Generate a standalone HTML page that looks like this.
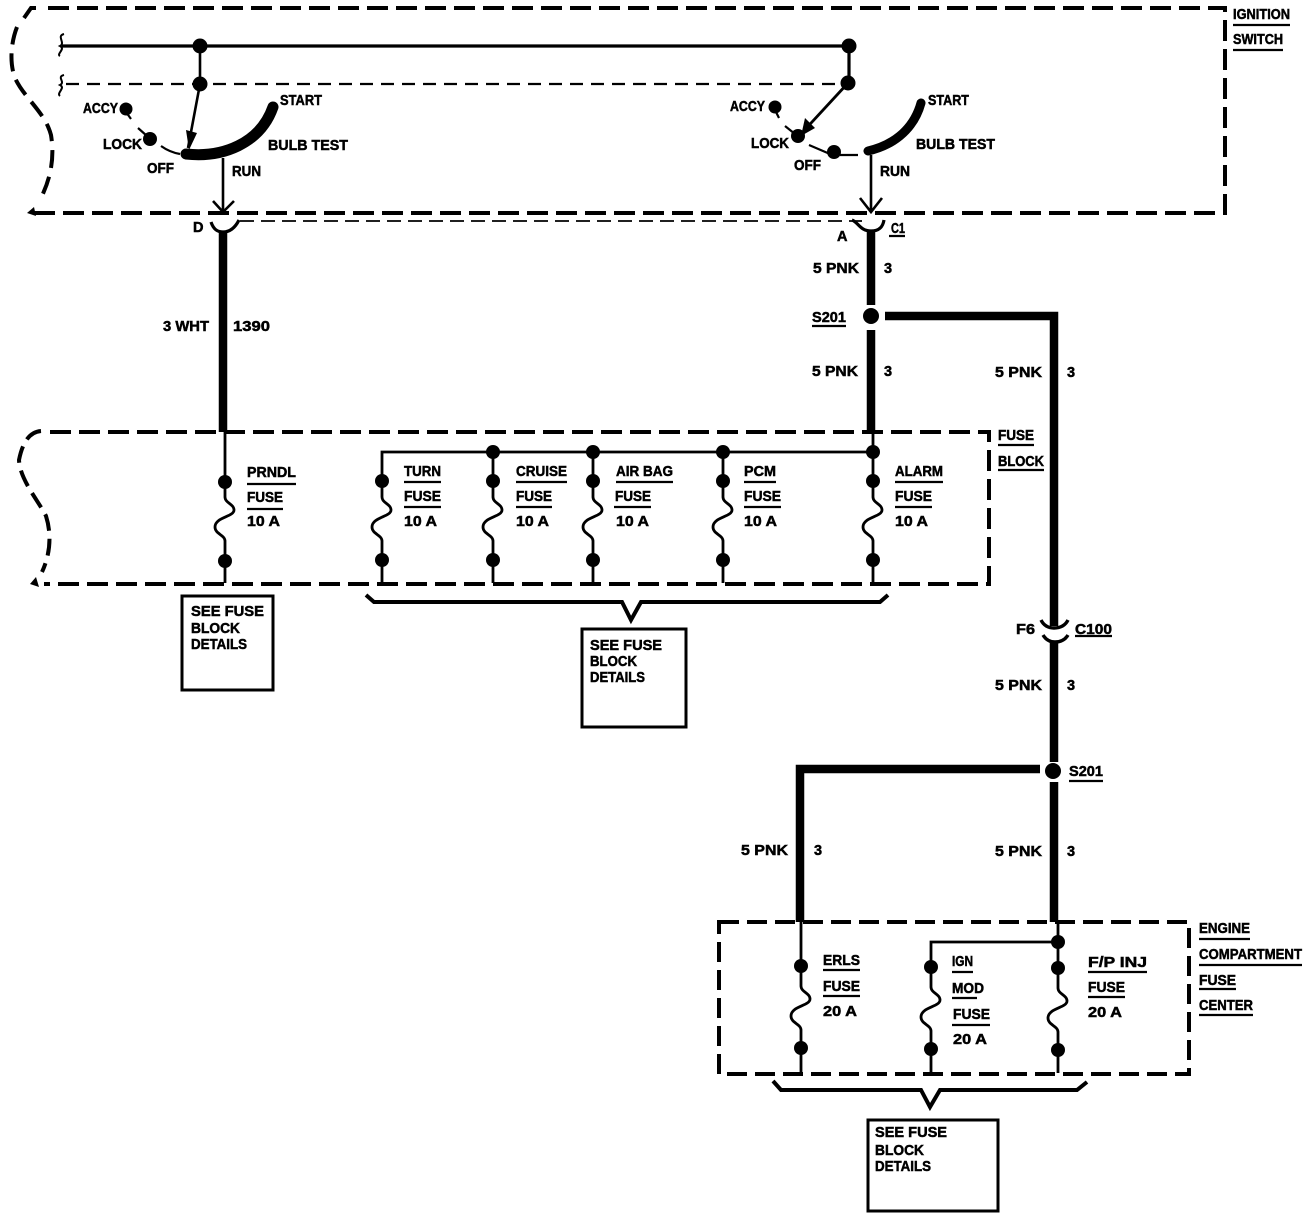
<!DOCTYPE html>
<html lang="en">
<head>
<meta charset="utf-8">
<title>Wiring diagram</title>
<style>
html,body{margin:0;padding:0;background:#fff}
svg{display:block}
text{font-family:"Liberation Sans",sans-serif;font-weight:bold;font-size:14.5px;fill:#000;stroke:#000;stroke-width:.5}
.w{fill:none;stroke:#000;stroke-linejoin:miter}
.b{stroke-width:4}
.d{fill:#000;stroke:none}
</style>
</head>
<body>
<svg width="1312" height="1220" viewBox="0 0 1312 1220" xmlns="http://www.w3.org/2000/svg">
<rect width="1312" height="1220" fill="#fff"/>

<!-- Ignition switch box -->
<path class="w b" stroke-dasharray="21 8" d="M48 8H1225V213H28"/>
<path class="w" stroke-width="4" d="M36 8H31L24 18"/>
<path class="w b" stroke-dasharray="18 9" d="M17 27C10 45 10 65 15 78C24 98 45 112 51 135C55 160 50 180 40 200"/>
<path class="d" d="M27 213L34 207L36 216Z"/>
<path class="w" stroke-width="1.8" stroke-dasharray="14 7" d="M240 221H862"/>

<!-- Bus lines -->
<path class="w" stroke-width="3.2" d="M62 46H849V83"/>
<path class="w" stroke-width="2.2" stroke-dasharray="13 8" d="M66 84H842"/>
<path class="w" stroke-width="2" d="M64 34C56 36 66 43 60 46C66 49 56 54 60 56M64 75C56 77 66 82 60 85C66 88 56 93 60 96"/>
<path class="w" stroke-width="2.6" d="M200 46V84L188 148"/>
<path class="d" d="M186 130L197 133L189 150Z"/>
<circle class="d" cx="200" cy="46" r="7.5"/>
<circle class="d" cx="200" cy="84" r="7.5"/>
<circle class="d" cx="849" cy="46" r="7.5"/>
<circle class="d" cx="848" cy="83" r="7.5"/>

<!-- Left switch -->
<path class="w" stroke-width="11" stroke-linecap="round" d="M186 154C222 158 260 144 273 107"/>
<circle class="d" cx="126" cy="109" r="6.5"/>
<circle class="d" cx="150" cy="139" r="7"/>
<path class="w" stroke-width="2.2" d="M126 112L131 119M138 128L147 136M161 146C168 151 174 153 180 154"/>
<path class="w" stroke-width="2.6" d="M223 158V212M213 201L223 212L234 201"/>
<path class="w" stroke-width="3.2" d="M211 222C214 231 219 232 223 232C228 232 234 230 239 220"/>

<!-- Right switch -->
<path class="w" stroke-width="2.8" d="M848 83L800 135"/>
<path class="d" d="M805 118L815 128L801 136Z"/>
<path class="w" stroke-width="9" stroke-linecap="round" d="M868 151C890 146 913 132 921 103"/>
<circle class="d" cx="775" cy="107" r="6.5"/>
<circle class="d" cx="798" cy="136" r="7"/>
<circle class="d" cx="834" cy="152" r="7"/>
<path class="w" stroke-width="2.2" d="M775 110L779 118M785 126L795 134M809 145L830 154M840 155H858"/>
<path class="w" stroke-width="2.6" d="M871 155V212M860 198L871 212L882 198"/>
<path class="w" stroke-width="3.2" d="M852 220C858 222 860 231 871 231C880 231 883 226 884 220"/>

<!-- Thick wires -->
<path class="w" stroke-width="8.5" d="M223 232V432M871 232V305M871 330V432M885 316H1054V626M1054 642V762M1054 782V922"/>
<path class="w" stroke-width="8.5" d="M1040 769H800V922"/>
<circle class="d" cx="871" cy="316" r="8"/>
<circle class="d" cx="1053" cy="771" r="8"/>
<path class="w" stroke-width="3.4" d="M1041 620C1044 626 1049 628 1054 628C1060 628 1065 626 1068 620M1043 635C1046 640 1050 642 1055 642C1060 642 1065 640 1068 635"/>

<!-- Fuse block box -->
<path class="w b" stroke-dasharray="21 8" d="M50 432H989V584H44"/>
<path class="w b" stroke-dasharray="17 8" d="M41 431C28 432 22 445 19 460C20 480 38 500 46 516C52 535 50 555 42 572"/>
<path class="d" d="M30 584L36 577L39 587Z"/>

<!-- Fuse block fuses -->
<path class="w" stroke-width="2.8" d="M382 583V541C382 535 372 534 372 527C372 517 391 517 391 510C391 504 382 503 382 497V452H873"/>
<path class="w" stroke-width="2.8" d="M225 432V497C225 503 234 504 234 510C234 517 215 517 215 527C215 534 225 535 225 541V583"/>
<path class="w" stroke-width="2.8" d="M493 452V497C493 503 502 504 502 510C502 517 483 517 483 527C483 534 493 535 493 541V583"/>
<path class="w" stroke-width="2.8" d="M593 452V497C593 503 602 504 602 510C602 517 583 517 583 527C583 534 593 535 593 541V583"/>
<path class="w" stroke-width="2.8" d="M723 452V497C723 503 732 504 732 510C732 517 713 517 713 527C713 534 723 535 723 541V583"/>
<path class="w" stroke-width="2.8" d="M873 432V497C873 503 882 504 882 510C882 517 863 517 863 527C863 534 873 535 873 541V583"/>
<g class="d">
<circle cx="225" cy="482" r="7"/><circle cx="225" cy="561" r="7"/>
<circle cx="382" cy="481" r="7"/><circle cx="382" cy="560" r="7"/>
<circle cx="493" cy="452" r="7"/><circle cx="493" cy="481" r="7"/><circle cx="493" cy="560" r="7"/>
<circle cx="593" cy="452" r="7"/><circle cx="593" cy="481" r="7"/><circle cx="593" cy="560" r="7"/>
<circle cx="723" cy="452" r="7"/><circle cx="723" cy="481" r="7"/><circle cx="723" cy="560" r="7"/>
<circle cx="873" cy="452" r="7"/><circle cx="873" cy="481" r="7"/><circle cx="873" cy="560" r="7"/>
</g>
<path class="w" stroke-width="4" d="M366 595L374 602H622L631 620L641 602H880L888 595"/>

<!-- Engine compartment box -->
<path class="w b" stroke-dasharray="20 8" d="M719 922H1189V1074H719Z"/>

<!-- Engine fuses -->
<path class="w" stroke-width="2.8" d="M801 922V986C801 992 810 993 810 999C810 1006 791 1006 791 1016C791 1023 801 1024 801 1030V1073"/>
<path class="w" stroke-width="2.8" d="M1058 922V988C1058 994 1067 995 1067 1001C1067 1008 1048 1008 1048 1018C1048 1025 1058 1026 1058 1032V1073"/>
<path class="w" stroke-width="2.8" d="M1058 942H931V987C931 993 940 994 940 1000C940 1007 921 1007 921 1017C921 1024 931 1025 931 1031V1073"/>
<g class="d">
<circle cx="801" cy="966" r="7"/><circle cx="801" cy="1048" r="7"/>
<circle cx="931" cy="967" r="7"/><circle cx="931" cy="1049" r="7"/>
<circle cx="1058" cy="942" r="7"/><circle cx="1058" cy="968" r="7"/><circle cx="1058" cy="1050" r="7"/>
</g>
<path class="w" stroke-width="4" d="M773 1081L781 1090H921L930 1107L940 1090H1077L1087 1082"/>

<!-- Note boxes -->
<rect class="w" stroke-width="3" x="182" y="596" width="91" height="94"/>
<rect class="w" stroke-width="3" x="582" y="629" width="104" height="98"/>
<rect class="w" stroke-width="3" x="868" y="1120" width="130" height="91"/>

<!-- Underlines -->
<path class="w" stroke-width="2.2" d="M1233 25H1290M1233 50H1283M889 236H905M812 326H846M998 445H1034M998 470H1044M1075 636H1112M1069 781H1103
M247 484H296M247 509H283M404 482H441M404 507H441M516 482H567M516 507H552M616 482H673M614 507H651M744 482H776M744 507H781M895 482H943M895 507H932
M823 970H860M823 996H860M952 972H973M952 998H977M952 1025H990M1088 972H1147M1088 997H1125
M1199 939H1250M1199 965H1302M1199 989H1236M1199 1015H1253"/>

<!-- Labels -->
<text x="1233" y="19" textLength="57" lengthAdjust="spacingAndGlyphs">IGNITION</text>
<text x="1233" y="44" textLength="50" lengthAdjust="spacingAndGlyphs">SWITCH</text>
<text x="83" y="113" textLength="35" lengthAdjust="spacingAndGlyphs">ACCY</text>
<text x="103" y="149" textLength="39" lengthAdjust="spacingAndGlyphs">LOCK</text>
<text x="147" y="173" textLength="27" lengthAdjust="spacingAndGlyphs">OFF</text>
<text x="280" y="105" textLength="42" lengthAdjust="spacingAndGlyphs">START</text>
<text x="268" y="150" textLength="80" lengthAdjust="spacingAndGlyphs">BULB TEST</text>
<text x="232" y="176" textLength="29" lengthAdjust="spacingAndGlyphs">RUN</text>
<text x="730" y="111" textLength="35" lengthAdjust="spacingAndGlyphs">ACCY</text>
<text x="751" y="148" textLength="38" lengthAdjust="spacingAndGlyphs">LOCK</text>
<text x="794" y="170" textLength="27" lengthAdjust="spacingAndGlyphs">OFF</text>
<text x="928" y="105" textLength="41" lengthAdjust="spacingAndGlyphs">START</text>
<text x="916" y="149" textLength="79" lengthAdjust="spacingAndGlyphs">BULB TEST</text>
<text x="880" y="176" textLength="30" lengthAdjust="spacingAndGlyphs">RUN</text>
<text x="193" y="232">D</text>
<text x="837" y="241">A</text>
<text x="891" y="233" textLength="14" lengthAdjust="spacingAndGlyphs">C1</text>
<text x="813" y="273" textLength="46" lengthAdjust="spacingAndGlyphs">5 PNK</text>
<text x="884" y="273">3</text>
<text x="812" y="322" textLength="34" lengthAdjust="spacingAndGlyphs">S201</text>
<text x="812" y="376" textLength="46" lengthAdjust="spacingAndGlyphs">5 PNK</text>
<text x="884" y="376">3</text>
<text x="163" y="331" textLength="46" lengthAdjust="spacingAndGlyphs">3 WHT</text>
<text x="233" y="331" textLength="37" lengthAdjust="spacingAndGlyphs">1390</text>
<text x="995" y="377" textLength="47" lengthAdjust="spacingAndGlyphs">5 PNK</text>
<text x="1067" y="377">3</text>
<text x="998" y="440" textLength="36" lengthAdjust="spacingAndGlyphs">FUSE</text>
<text x="998" y="466" textLength="46" lengthAdjust="spacingAndGlyphs">BLOCK</text>

<text x="247" y="477" textLength="49" lengthAdjust="spacingAndGlyphs">PRNDL</text>
<text x="247" y="502" textLength="36" lengthAdjust="spacingAndGlyphs">FUSE</text>
<text x="247" y="526" textLength="33" lengthAdjust="spacingAndGlyphs">10 A</text>
<text x="404" y="476" textLength="37" lengthAdjust="spacingAndGlyphs">TURN</text>
<text x="404" y="501" textLength="37" lengthAdjust="spacingAndGlyphs">FUSE</text>
<text x="404" y="526" textLength="33" lengthAdjust="spacingAndGlyphs">10 A</text>
<text x="516" y="476" textLength="51" lengthAdjust="spacingAndGlyphs">CRUISE</text>
<text x="516" y="501" textLength="36" lengthAdjust="spacingAndGlyphs">FUSE</text>
<text x="516" y="526" textLength="33" lengthAdjust="spacingAndGlyphs">10 A</text>
<text x="616" y="476" textLength="57" lengthAdjust="spacingAndGlyphs">AIR BAG</text>
<text x="615" y="501" textLength="36" lengthAdjust="spacingAndGlyphs">FUSE</text>
<text x="616" y="526" textLength="33" lengthAdjust="spacingAndGlyphs">10 A</text>
<text x="744" y="476" textLength="32" lengthAdjust="spacingAndGlyphs">PCM</text>
<text x="744" y="501" textLength="37" lengthAdjust="spacingAndGlyphs">FUSE</text>
<text x="744" y="526" textLength="33" lengthAdjust="spacingAndGlyphs">10 A</text>
<text x="895" y="476" textLength="48" lengthAdjust="spacingAndGlyphs">ALARM</text>
<text x="895" y="501" textLength="37" lengthAdjust="spacingAndGlyphs">FUSE</text>
<text x="895" y="526" textLength="33" lengthAdjust="spacingAndGlyphs">10 A</text>

<text x="191" y="616" textLength="73" lengthAdjust="spacingAndGlyphs">SEE FUSE</text>
<text x="191" y="633" textLength="49" lengthAdjust="spacingAndGlyphs">BLOCK</text>
<text x="191" y="649" textLength="56" lengthAdjust="spacingAndGlyphs">DETAILS</text>
<text x="590" y="650" textLength="72" lengthAdjust="spacingAndGlyphs">SEE FUSE</text>
<text x="590" y="666" textLength="47" lengthAdjust="spacingAndGlyphs">BLOCK</text>
<text x="590" y="682" textLength="55" lengthAdjust="spacingAndGlyphs">DETAILS</text>
<text x="875" y="1137" textLength="72" lengthAdjust="spacingAndGlyphs">SEE FUSE</text>
<text x="875" y="1155" textLength="49" lengthAdjust="spacingAndGlyphs">BLOCK</text>
<text x="875" y="1171" textLength="56" lengthAdjust="spacingAndGlyphs">DETAILS</text>

<text x="1016" y="634" textLength="19" lengthAdjust="spacingAndGlyphs">F6</text>
<text x="1075" y="634" textLength="37" lengthAdjust="spacingAndGlyphs">C100</text>
<text x="995" y="690" textLength="47" lengthAdjust="spacingAndGlyphs">5 PNK</text>
<text x="1067" y="690">3</text>
<text x="1069" y="776" textLength="34" lengthAdjust="spacingAndGlyphs">S201</text>
<text x="741" y="855" textLength="47" lengthAdjust="spacingAndGlyphs">5 PNK</text>
<text x="814" y="855">3</text>
<text x="995" y="856" textLength="47" lengthAdjust="spacingAndGlyphs">5 PNK</text>
<text x="1067" y="856">3</text>

<text x="823" y="965" textLength="37" lengthAdjust="spacingAndGlyphs">ERLS</text>
<text x="823" y="991" textLength="37" lengthAdjust="spacingAndGlyphs">FUSE</text>
<text x="823" y="1016" textLength="34" lengthAdjust="spacingAndGlyphs">20 A</text>
<text x="952" y="966" textLength="21" lengthAdjust="spacingAndGlyphs">IGN</text>
<text x="952" y="993" textLength="32" lengthAdjust="spacingAndGlyphs">MOD</text>
<text x="953" y="1019" textLength="37" lengthAdjust="spacingAndGlyphs">FUSE</text>
<text x="953" y="1044" textLength="34" lengthAdjust="spacingAndGlyphs">20 A</text>
<text x="1088" y="967" textLength="59" lengthAdjust="spacingAndGlyphs">F/P INJ</text>
<text x="1088" y="992" textLength="37" lengthAdjust="spacingAndGlyphs">FUSE</text>
<text x="1088" y="1017" textLength="34" lengthAdjust="spacingAndGlyphs">20 A</text>
<text x="1199" y="933" textLength="51" lengthAdjust="spacingAndGlyphs">ENGINE</text>
<text x="1199" y="959" textLength="103" lengthAdjust="spacingAndGlyphs">COMPARTMENT</text>
<text x="1199" y="985" textLength="37" lengthAdjust="spacingAndGlyphs">FUSE</text>
<text x="1199" y="1010" textLength="54" lengthAdjust="spacingAndGlyphs">CENTER</text>
</svg>
</body>
</html>
